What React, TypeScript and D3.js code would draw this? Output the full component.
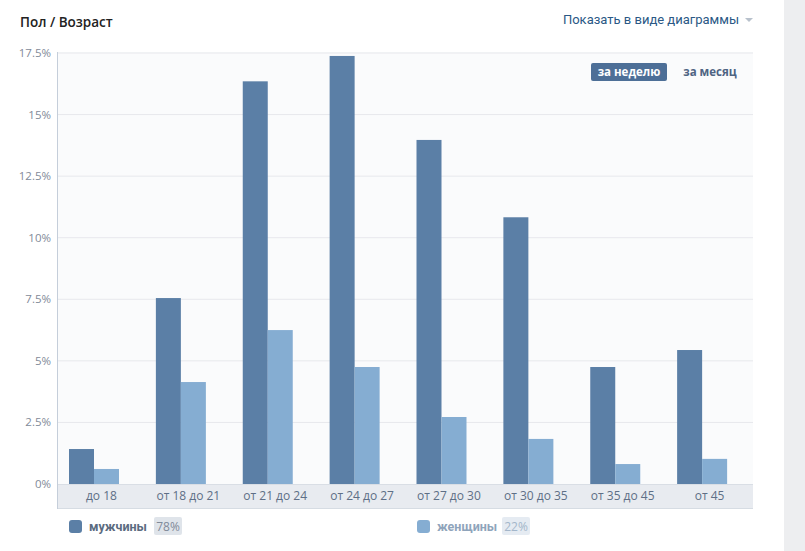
import React from 'react';
import * as d3 from 'd3';

const categories = ['до 18', 'от 18 до 21', 'от 21 до 24', 'от 24 до 27', 'от 27 до 30', 'от 30 до 35', 'от 35 до 45', 'от 45'];
const male = [1.42, 7.55, 16.35, 17.38, 13.97, 10.83, 4.75, 5.44];
const female = [0.61, 4.14, 6.25, 4.75, 2.72, 1.83, 0.81, 1.02];
const yTicks = [0, 2.5, 5, 7.5, 10, 12.5, 15, 17.5];
const seriesNames = ['мужчины', 'женщины'];
const seriesShares = ['78%', '22%'];

const W = 805;
const H = 551;
const margin = {top: 52, left: 58, right: 52, bottom: 67};
const FONT = '"Open Sans", Roboto, sans-serif';

const App = () => {
  const plotRight = W - margin.right;
  const zeroY = 484;

  const x = d3.scaleBand().domain(categories).range([margin.left, plotRight]);
  const y = d3.scaleLinear().domain([0, 17.5]).range([zeroY, 53]);

  const barW = 25;
  const offset = 11;
  const fmt = (v) => `${v}%`;

  return (
    <svg width={W} height={H} style={{position: 'absolute', left: 0, top: 0, background: '#fff'}} fontFamily={FONT}>
      {/* right side strip */}
      <rect x={784} y={0} width={W - 784} height={H} fill="#edeef0" />

      <text x={20} y={27} fontSize={13.5} fontWeight={600} fill="#222">Пол / Возраст</text>
      <text x={739} y={24} fontSize={13} fontFamily="Roboto, sans-serif" fill="#2a5885" textAnchor="end">Показать в виде диаграммы</text>
      <path d="M745,18 L753,18 L749,22 Z" fill="#b8c1cc" />

      {/* plot background */}
      <rect x={margin.left} y={margin.top} width={plotRight - margin.left} height={zeroY - margin.top} fill="#fafbfc" />

      {/* grid */}
      {yTicks.filter(t => t > 0).map(t => (
        <line key={t} x1={margin.left} x2={plotRight} y1={y(t)} y2={y(t)} stroke="#e7e8ec" />
      ))}

      {/* y tick labels */}
      {yTicks.map(t => (
        <text key={t} x={51} y={y(t) + 4} fontSize={11.5} fill="#828a99" textAnchor="end">{fmt(t)}</text>
      ))}

      {/* bars */}
      {categories.map((c, i) => (
        <g key={c}>
          <rect x={x(c) + offset} y={y(male[i])} width={barW} height={zeroY - y(male[i])} fill="#5b7fa6" />
          <rect x={x(c) + offset + barW} y={y(female[i])} width={barW} height={zeroY - y(female[i])} fill="#85add2" />
        </g>
      ))}

      {/* x axis band */}
      <rect x={margin.left} y={zeroY} width={plotRight - margin.left} height={24} fill="#e8ebf0" />
      <line x1={margin.left} x2={plotRight} y1={zeroY + 0.5} y2={zeroY + 0.5} stroke="#d9dee5" />
      <line x1={margin.left} x2={plotRight} y1={508.5} y2={508.5} stroke="#d6dce3" />
      <line x1={margin.left - 0.5} x2={margin.left - 0.5} y1={margin.top} y2={509} stroke="#c5ceda" />
      {categories.map(c => (
        <text key={c} x={x(c) + x.bandwidth() / 2} y={500} fontSize={12} fill="#5e6f86" textAnchor="middle">{c}</text>
      ))}

      {/* period buttons */}
      <rect x={591} y={63} width={76} height={18} rx={2} fill="#4d6f97" />
      <text x={629} y={76} fontSize={11.5} fontWeight={700} fill="#fff" textAnchor="middle">за неделю</text>
      <text x={710} y={76} fontSize={11.5} fontWeight={700} fill="#4e6483" textAnchor="middle">за месяц</text>

      {/* legend */}
      {seriesNames.map((s, i) => {
        const lx = i === 0 ? 69 : 417;
        return (
          <g key={s}>
            <rect x={lx} y={520} width={13} height={13} rx={3} fill={i === 0 ? '#5b7fa6' : '#85add2'} />
            <text x={lx + 20} y={531} fontSize={12.5} fontFamily="Roboto, sans-serif" fontWeight={700} fill={i === 0 ? '#5b6b80' : '#8fa4bb'}>{s}</text>
            <rect x={lx + 85} y={517} width={28} height={18} rx={2} fill={i === 0 ? '#dfe4ea' : '#e5ebf2'} />
            <text x={lx + 99} y={531} fontSize={12} fill={i === 0 ? '#7f8a99' : '#a3b6ca'} textAnchor="middle">{seriesShares[i]}</text>
          </g>
        );
      })}
    </svg>
  );
};

export default App;
